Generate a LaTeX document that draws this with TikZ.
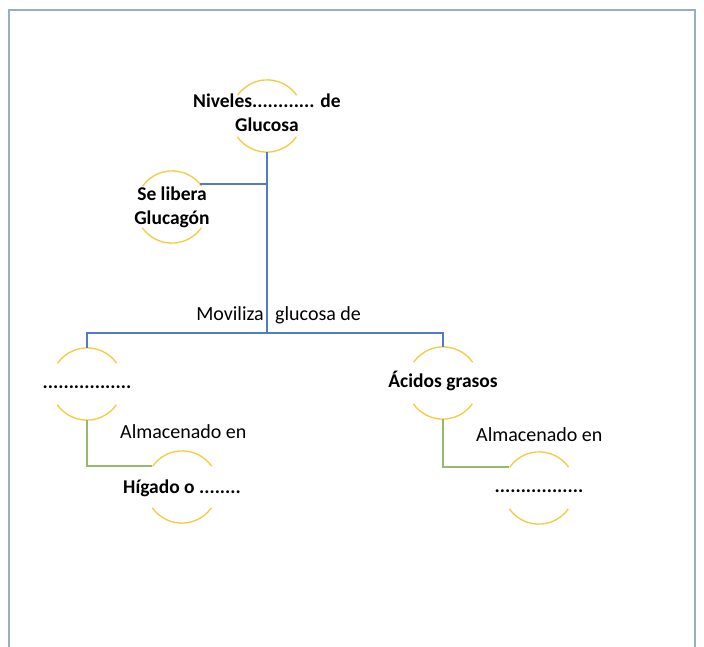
\documentclass[tikz,border=0pt]{standalone}
\usepackage{fontspec}
\setmainfont{Carlito}
\usetikzlibrary{calc}
\definecolor{framegray}{RGB}{150,176,190}
\definecolor{linkblue}{RGB}{82,122,200}
\definecolor{linkgreen}{RGB}{150,186,108}
\definecolor{ringgold}{RGB}{242,206,72}
\tikzset{
  ring/.style={circle,minimum size=72pt,inner sep=0pt},
  ringtext/.style={font=\fontsize{19.5}{24}\selectfont\bfseries,align=center,inner sep=0pt},
  linktext/.style={font=\fontsize{20}{24}\selectfont,inner sep=0pt},
  ringarc/.style={draw=ringgold,line width=1.4pt},
  bluelink/.style={draw=linkblue,line width=1.6pt},
  greenlink/.style={draw=linkgreen,line width=1.6pt}
}
\newcommand{\ringarcs}[1]{%
  \draw[ringarc] (#1.35) arc (35:145:36pt);
  \draw[ringarc] (#1.215) arc (215:325:36pt);}

\begin{document}
\begin{tikzpicture}[x=1pt,y=1pt]
  \useasboundingbox (0,0) rectangle (704,-647);
  \draw[framegray,line width=1.2pt] (9,-660) -- (9,-10) -- (695,-10) -- (695,-660);
  % rings
  \node[ring] (niv) at (267,-116) {};
  \node[ring] (glu) at (172,-207) {};
  \node[ring] (lc) at (87,-384) {};
  \node[ring] (ac) at (443,-383) {};
  \node[ring] (hig) at (182,-487) {};
  \node[ring] (rb) at (539,-488) {};
  \ringarcs{niv}
  \ringarcs{glu}
  \ringarcs{lc}
  \ringarcs{ac}
  \ringarcs{hig}
  \ringarcs{rb}
  % texts
  \node[ringtext] (nivtxt) at ($(niv)+(0,3)$) {Niveles............ de\\Glucosa};
  \node[ringtext] (glutxt) at (glu) {Se libera\\Glucagón};
  \node[ringtext] (lctxt) at (lc) {\strut.................};
  \node[ringtext] (actxt) at (ac) {\strut Ácidos grasos};
  \node[ringtext] (higtxt) at ($(hig)+(0,-2)$) {\strut Hígado o ........};
  \node[ringtext] (rbtxt) at (rb) {\strut.................};
  % blue links
  \coordinate (mov) at (niv.south |- 0,-333);
  \draw[bluelink] (niv.south) -- (mov);
  \draw[bluelink] (glu.40) -- (glu.40 -| niv.south);
  \draw[bluelink] (lc.north) |- (mov) -| (ac.north);
  \node[linktext,anchor=base east] (movl) at ($(mov)+(-3,13)$) {Moviliza};
  \node[linktext,anchor=base west] (movr) at ($(mov)+(8,13)$) {glucosa de};
  % green links
  \draw[greenlink] (lc.south) |- (hig.145);
  \draw[greenlink] (ac.south) |- (rb.145);
  \node[linktext,anchor=base west] (alml) at (120,-438) {Almacenado en};
  \node[linktext,anchor=base west] (almr) at (476,-441) {Almacenado en};
\end{tikzpicture}
\end{document}
